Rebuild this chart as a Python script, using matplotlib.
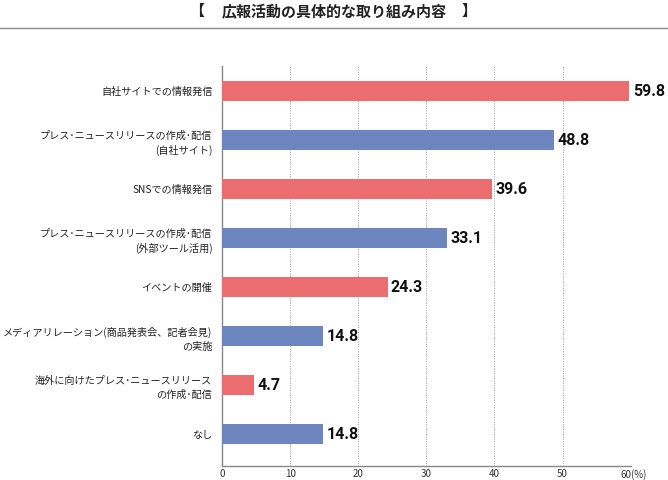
import matplotlib.pyplot as plt
import matplotlib.transforms as mtransforms

plt.rcParams['font.family'] = ['Noto Sans CJK JP', 'DejaVu Sans']

# data
categories = [
    "自社サイトでの情報発信",
    "プレス･ニュースリリースの作成･配信\n(自社サイト)",
    "SNSでの情報発信",
    "プレス･ニュースリリースの作成･配信\n(外部ツール活用)",
    "イベントの開催",
    "メディアリレーション(商品発表会、記者会見)\nの実施",
    "海外に向けたプレス･ニュースリリース\nの作成･配信",
    "なし",
]
values = [59.8, 48.8, 39.6, 33.1, 24.3, 14.8, 4.7, 14.8]
x_ticks = [0, 10, 20, 30, 40, 50, 60]
x_tick_labels = ["0", "10", "20", "30", "40", "50", "60(%)"]
title = "広報活動の具体的な取り組み内容"

red = "#EC6D70"
blue = "#6C85BE"
bar_colors = [red if i % 2 == 0 else blue for i in range(len(values))]

fig = plt.figure(figsize=(6.68, 4.8), dpi=100)
ax = fig.add_axes([222 / 668, 14 / 480, (630.7 - 222) / 668, 400 / 480])

ypos = list(range(len(values)))
ax.barh(ypos, values, height=0.42, color=bar_colors, zorder=3)

for y, v in zip(ypos, values):
    ax.annotate(f"{v:.1f}", xy=(v, y), xytext=(2.5, 0), textcoords="offset points",
                ha="left", va="center", fontsize=11.5, fontweight="bold",
                family=["Roboto", "DejaVu Sans"], color="#111111")

ax.set_xlim(0, 60)
ax.set_ylim(7.65, -0.51)
ax.set_yticks(ypos)
ax.set_yticklabels(categories, fontsize=7.3, color="#222222", linespacing=1.5)
ax.set_xticks(x_ticks)
ax.set_xticklabels(x_tick_labels, fontsize=7, color="#333333")
ax.tick_params(axis="both", length=0)
ax.tick_params(axis="y", pad=7)
ax.tick_params(axis="x", pad=2)

# shift the last tick label to the right a little
lbl = ax.get_xticklabels()[-1]
lbl.set_transform(lbl.get_transform() + mtransforms.ScaledTranslation(3 / 100, 0, fig.dpi_scale_trans))

ax.grid(axis="x", linestyle=(0, (1, 1.5)), color="#999999", linewidth=0.7, zorder=0)
for side in ["top", "right"]:
    ax.spines[side].set_visible(False)
for side in ["left", "bottom"]:
    ax.spines[side].set_color("#888888")
    ax.spines[side].set_linewidth(1.0)

# title with brackets and rule under it
ty = 1 - 11 / 480
fig.text(334 / 668, ty, title, ha="center", va="center",
         fontsize=10.8, fontweight="bold", color="#222222")
fig.text(197 / 668, ty, "【", ha="center", va="center",
         fontsize=10.8, fontweight="bold", color="#222222")
fig.text(469 / 668, ty, "】", ha="center", va="center",
         fontsize=10.8, fontweight="bold", color="#222222")
fig.add_artist(plt.Line2D([0, 1], [1 - 28 / 480, 1 - 28 / 480],
                          transform=fig.transFigure, color="#8a8a8a", linewidth=1.0))

fig.savefig("out.png", dpi=100)
